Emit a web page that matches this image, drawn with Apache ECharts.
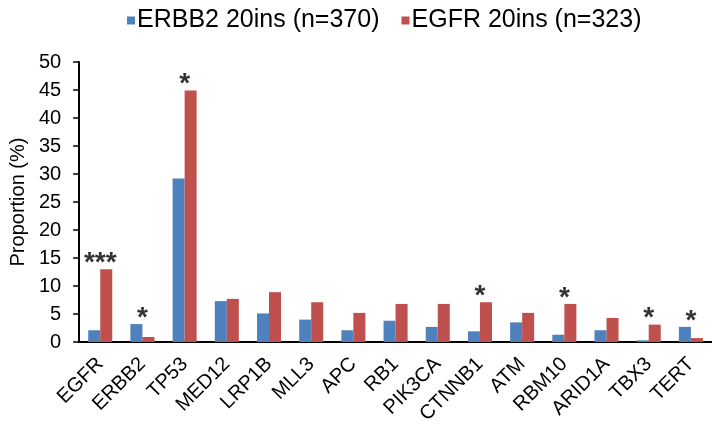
<!DOCTYPE html>
<html>
<head>
<meta charset="utf-8">
<script src="https://cdn.jsdelivr.net/npm/echarts@6/dist/echarts.min.js"></script>
<style>
  html, body { margin: 0; padding: 0; background: #fff; }
  #chart { width: 712px; height: 428px; }
</style>
</head>
<body>
<div id="chart"></div>
<script>
// genes on the x axis
const genes = ["EGFR", "ERBB2", "TP53", "MED12", "LRP1B", "MLL3", "APC", "RB1",
  "PIK3CA", "CTNNB1", "ATM", "RBM10", "ARID1A", "TBX3", "TERT"];

// proportion (%) per cohort
const erbb2Ins = [2.1, 3.2, 29.2, 7.3, 5.1, 4.0, 2.1, 3.8, 2.7, 1.9, 3.5, 1.3, 2.1, 0.3, 2.7];
const egfrIns = [13.0, 0.9, 44.9, 7.7, 8.9, 7.1, 5.2, 6.8, 6.8, 7.1, 5.2, 6.8, 4.3, 3.1, 0.7];

// significance marks
const stars = ["***", "*", "*", "", "", "", "", "", "", "*", "", "*", "", "*", "*"];

const seriesNames = ["ERBB2 20ins (n=370)", "EGFR 20ins (n=323)"];
const yTicks = { min: 0, max: 50, step: 5 };

let myChart = echarts.init(document.getElementById("chart"));

// stars sit above the taller bar of each pair
let starData = genes.map((g, i) => [i, Math.max(erbb2Ins[i], egfrIns[i])]);

const font = "Liberation Sans, Arial, sans-serif";

myChart.setOption({
  animation: false,
  color: ["#4F81BD", "#C0504D"],
  textStyle: { fontFamily: font },
  legend: {
    data: seriesNames,
    top: 3,
    left: 122,
    itemWidth: 8,
    itemHeight: 8,
    itemGap: 22,
    icon: "rect",
    textStyle: { fontSize: 25, color: "#000", fontFamily: font, padding: [0, 0, 0, -3] }
  },
  grid: { left: 79, top: 62, width: 635, height: 280 },
  xAxis: {
    type: "category",
    data: genes,
    axisLine: { lineStyle: { color: "#000", width: 2 } },
    axisTick: { show: false },
    axisLabel: { rotate: 45, interval: 0, fontSize: 20, color: "#000", margin: 19 }
  },
  yAxis: {
    type: "value",
    min: yTicks.min,
    max: yTicks.max,
    interval: yTicks.step,
    name: "Proportion (%)",
    nameLocation: "middle",
    nameGap: 50,
    nameTextStyle: { fontSize: 20, color: "#000" },
    axisLine: { show: true, lineStyle: { color: "#000", width: 2 } },
    axisTick: { show: true, length: 6, lineStyle: { color: "#000", width: 1.5 } },
    splitLine: { show: false },
    axisLabel: { fontSize: 20, color: "#000", margin: 18 }
  },
  series: [
    {
      name: seriesNames[0],
      type: "bar",
      data: erbb2Ins,
      barGap: "0%",
      barCategoryGap: "43%"
    },
    {
      name: seriesNames[1],
      type: "bar",
      data: egfrIns,
      barGap: "0%",
      barCategoryGap: "43%"
    },
    {
      type: "scatter",
      data: starData,
      symbolSize: 0,
      silent: true,
      label: {
        show: true,
        position: "top",
        distance: -8,
        fontSize: 28,
        fontWeight: "bold",
        color: "#000",
        formatter: (p) => stars[p.dataIndex]
      }
    }
  ]
});
</script>
</body>
</html>
